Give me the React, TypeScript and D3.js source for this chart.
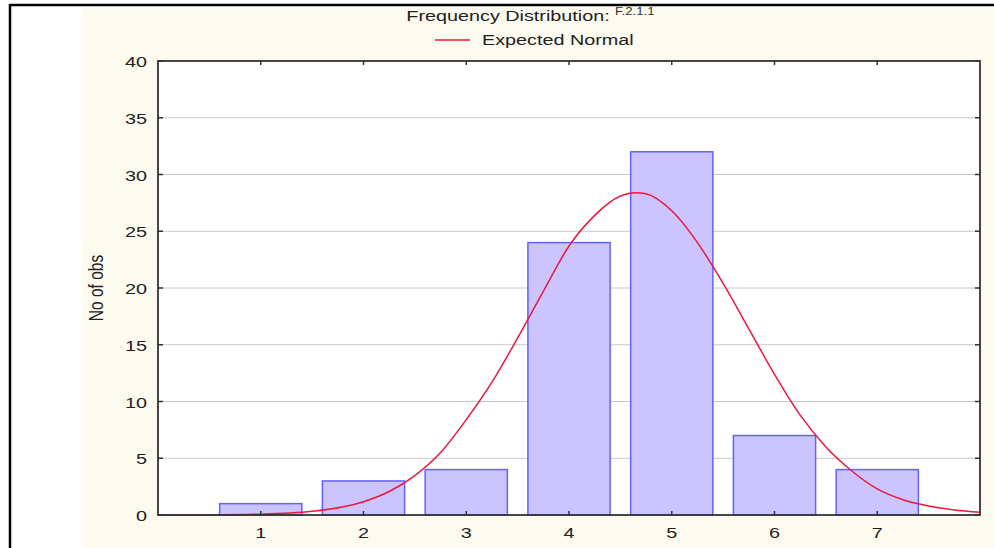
import React from "react";
import * as d3 from "d3";

const categories = [1, 2, 3, 4, 5, 6, 7];
const counts = [1, 3, 4, 24, 32, 7, 4];
const yTicks = [0, 5, 10, 15, 20, 25, 30, 35, 40];
// Expected normal curve
const curveX = [0, 0.5, 1, 1.5, 2, 2.25, 2.5, 2.75, 3, 3.25, 3.5, 3.75, 4, 4.25, 4.5, 4.65, 4.75, 5, 5.25, 5.5, 5.75, 6, 6.25, 6.5, 6.75, 7, 7.25, 7.5, 7.75, 8];
const curveY = [0, 0.01, 0.07, 0.32, 1.17, 2.07, 3.47, 5.5, 8.4, 11.7, 15.6, 19.7, 23.7, 26.4, 28.1, 28.4, 28.3, 26.8, 24.0, 20.4, 16.4, 12.4, 8.8, 6.0, 3.9, 2.3, 1.35, 0.8, 0.45, 0.25];

const title = "Frequency Distribution:";
const titleSup = "F.2.1.1";
const legendLabel = "Expected Normal";
const yLabel = "No of obs";

const W = 994;
const H = 548;
const PL = 158, PR = 980, PT = 61, PB = 515;
const SX = 1.32;
const FONT = "'Liberation Sans', Arial, sans-serif";

export default function App() {
  const x = d3.scaleLinear().domain([0, 8]).range([PL, PR]);
  const y = d3.scaleLinear().domain([0, 40]).range([PB, PT]);
  const line = d3
    .line<number>()
    .x((_, i) => x(curveX[i]))
    .y((d) => y(d))
    .curve(d3.curveMonotoneX);
  const pathD = line(curveY) || "";

  const txt = (tx: number, ty: number, s: string, size: number, anchor: string, key?: string) => (
    <g key={key} transform={`translate(${tx},${ty}) scale(${SX},1)`}>
      <text x={0} y={0} fontSize={size} fontFamily={FONT} fill="#222" textAnchor={anchor} dominantBaseline="central">
        {s}
      </text>
    </g>
  );

  return (
    <svg width={W} height={H} style={{ position: "absolute", left: 0, top: 0, background: "#fff" }}>
      <rect x={82} y={7} width={W - 82} height={H - 7} fill="#fdfaf0" />
      <line x1={10} y1={5} x2={W} y2={5} stroke="#000" strokeWidth={2.5} />
      <line x1={10} y1={4} x2={10} y2={H} stroke="#000" strokeWidth={2.5} />

      {/* title */}
      {txt(508, 16, title, 15, "middle")}
      <g transform={`translate(615,11) scale(${SX},1)`}>
        <text x={0} y={0} fontSize={10} fontFamily={FONT} fill="#333" textAnchor="start" dominantBaseline="central">
          {titleSup}
        </text>
      </g>
      {/* legend */}
      <line x1={435} y1={40} x2={470} y2={40} stroke="#e8193c" strokeWidth={1.5} />
      {txt(482, 40, legendLabel, 15, "start")}

      {/* plot */}
      <rect x={PL} y={PT} width={PR - PL} height={PB - PT} fill="#fff" />
      {yTicks.filter((t) => t > 0 && t < 40).map((t) => (
        <line key={"g" + t} x1={PL} x2={PR} y1={y(t)} y2={y(t)} stroke="#c8c8c8" strokeWidth={1} />
      ))}
      {categories.map((c, i) => (
        <rect
          key={"b" + c}
          x={x(c - 0.4)}
          y={y(counts[i])}
          width={x(c + 0.4) - x(c - 0.4)}
          height={y(0) - y(counts[i])}
          fill="#ccc4ff"
          stroke="#6262ff"
          strokeWidth={1.5}
        />
      ))}
      <path d={pathD} fill="none" stroke="#e8193c" strokeWidth={1.5} />
      <rect x={PL} y={PT} width={PR - PL} height={PB - PT} fill="none" stroke="#333" strokeWidth={1.8} />
      {yTicks.map((t) => (
        <g key={"t" + t}>
          <line x1={PL} x2={PL + 5} y1={y(t)} y2={y(t)} stroke="#333" strokeWidth={1.5} />
          <line x1={PR - 5} x2={PR} y1={y(t)} y2={y(t)} stroke="#333" strokeWidth={1.5} />
        </g>
      ))}
      {categories.map((c) => (
        <g key={"xt" + c}>
          <line x1={x(c)} x2={x(c)} y1={PB} y2={PB - 4} stroke="#333" strokeWidth={1.5} />
          <line x1={x(c)} x2={x(c)} y1={PT} y2={PT + 4} stroke="#333" strokeWidth={1.5} />
        </g>
      ))}
      {yTicks.map((t) => txt(147, y(t) + 1, String(t), 15, "end", "yl" + t))}
      {categories.map((c) => txt(x(c), 533, String(c), 15, "middle", "xl" + c))}
      <g transform={`translate(96,288) scale(${SX},1) rotate(-90)`}>
        <text x={0} y={0} fontSize={15.5} fontFamily={FONT} fill="#222" textAnchor="middle" dominantBaseline="central">
          {yLabel}
        </text>
      </g>
    </svg>
  );
}
